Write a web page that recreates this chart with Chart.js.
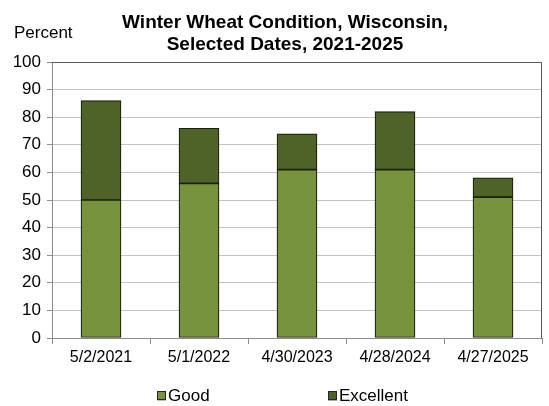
<!DOCTYPE html>
<html>
<head>
<meta charset="utf-8">
<script src="https://cdn.jsdelivr.net/npm/chart.js@4"></script>
<style>
  html, body { margin: 0; padding: 0; background: #fff; }
  #wrap { width: 549px; height: 406px; }
</style>
</head>
<body>
<div id="wrap"><canvas id="wheatChart" width="549" height="406"></canvas></div>
<script>
const dates = ['5/2/2021', '5/1/2022', '4/30/2023', '4/28/2024', '4/27/2025'];
const good = [50, 56, 61, 61, 51];
const excellent = [36, 20, 13, 21, 7];
const titleLines = ['Winter Wheat Condition, Wisconsin,', 'Selected Dates, 2021-2025'];
const yAxisLabel = 'Percent';

const FONT = 'Arial, "Liberation Sans", sans-serif';

// title, "Percent" label, frame and the bottom legend
const extras = {
    id: 'extras',
    afterDraw(chart) {
        const c = chart.ctx;
        const area = chart.chartArea;
        c.save();
        c.strokeStyle = '#595959';
        c.lineWidth = 1;
        c.beginPath();
        c.moveTo(area.left, area.top + 0.5);
        c.lineTo(area.right - 0.5, area.top + 0.5);
        c.lineTo(area.right - 0.5, area.bottom);
        c.stroke();

        c.fillStyle = '#000';
        c.textAlign = 'center';
        c.textBaseline = 'middle';
        c.font = 'bold 19px ' + FONT;
        c.fillText(titleLines[0], 285, 23);
        c.fillText(titleLines[1], 285, 45);

        c.font = '17px ' + FONT;
        c.textAlign = 'left';
        c.fillText(yAxisLabel, 14, 33);

        const items = [
            { x: 157, ds: chart.data.datasets[0] },
            { x: 328, ds: chart.data.datasets[1] }
        ];
        const ly = 396;
        items.forEach(it => {
            c.fillStyle = it.ds.backgroundColor;
            c.fillRect(it.x, ly - 4.5, 9, 9);
            c.strokeStyle = '#262626';
            c.strokeRect(it.x + 0.5, ly - 4.5, 8, 8);
            c.fillStyle = '#000';
            c.font = '17px ' + FONT;
            c.fillText(it.ds.label, it.x + 11, ly);
        });
        c.restore();
    }
};

const data = {
    labels: dates,
    datasets: [
        {
            label: 'Good',
            data: good,
            backgroundColor: '#77933c',
            borderColor: '#1a200d',
            borderWidth: 1.2,
            borderSkipped: false,
            barThickness: 40
        },
        {
            label: 'Excellent',
            data: excellent,
            backgroundColor: '#4f6228',
            borderColor: '#1a200d',
            borderWidth: 1.2,
            borderSkipped: false,
            barThickness: 40
        }
    ]
};

new Chart(document.getElementById('wheatChart').getContext('2d'), {
    type: 'bar',
    data: data,
    options: {
        responsive: false,
        animation: false,
        layout: { padding: { top: 62, right: 7, left: 0, bottom: 0 } },
        plugins: {
            legend: { display: false },
            title: { display: false },
            tooltip: { enabled: false }
        },
        scales: {
            x: {
                stacked: true,
                grid: { drawOnChartArea: false, color: '#8c8c8c', tickLength: 6 },
                border: { color: '#8c8c8c' },
                ticks: { color: '#000', font: { family: FONT, size: 16 }, padding: 4, maxRotation: 0 },
                afterFit(scale) { scale.height = 68; }
            },
            y: {
                stacked: true,
                min: 0,
                max: 100,
                ticks: { stepSize: 10, color: '#000', font: { family: FONT, size: 17 }, padding: 6 },
                grid: { color: '#c4c4c4', tickColor: '#8c8c8c', tickLength: 5 },
                border: { color: '#8c8c8c' },
                afterFit(scale) { scale.width = 52; }
            }
        }
    },
    plugins: [extras]
});
</script>
</body>
</html>
